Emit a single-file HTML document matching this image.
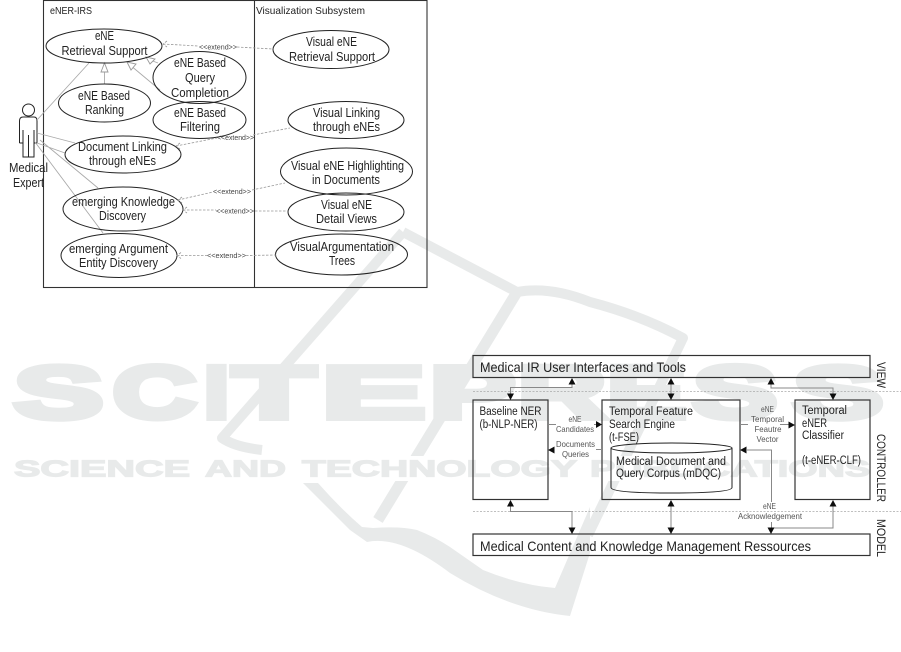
<!DOCTYPE html>
<html><head><meta charset="utf-8"><style>
html,body{margin:0;padding:0;background:#fff}
svg{display:block}
text{font-family:"Liberation Sans",sans-serif;fill:#222}
.b{font-size:12.5px}
.s{font-size:8.5px;fill:#555}
.x{font-size:7px;fill:#444}
.w{font-family:"Liberation Sans",sans-serif;font-weight:bold;fill:#e8eaea;stroke:#e8eaea;stroke-linejoin:miter}
.e{fill:none;stroke:#222;stroke-width:1}
.a{fill:none;stroke:#aaa;stroke-width:.9}
.d{fill:none;stroke:#999;stroke-width:.8;stroke-dasharray:2.5 1.5}
.l{fill:none;stroke:#888;stroke-width:1}
.r{fill:none;stroke:#333;stroke-width:1.1}
.h{fill:#111;stroke:none}
</style></head><body>
<svg xmlns="http://www.w3.org/2000/svg" width="901" height="652" viewBox="0 0 901 652">
<defs><filter id="f" x="0" y="0" width="100%" height="100%"><feGaussianBlur stdDeviation="0.35"/></filter></defs>

<!-- watermark -->
<g fill="none" stroke="#e8eaea" stroke-linejoin="round">
<path d="M403,232 L222,438 Q235,447 262,450" stroke-width="10"/>
<path d="M588,535 L683,338 Q640,315 590,302 Q550,286 517,292 Q460,262 403,232" stroke-width="10"/>
<path d="M517,292 L378,520" stroke-width="11"/>
</g>
<path fill="#e8eaea" d="M303,483L318,483Q340,508 362,527L373,528Q400,526 417,530Q435,537 450,547L483,570Q520,585 555,588L590,507L590,553L570,616Q510,610 450,573Q400,535 367,542L350,530Z"/>
<rect x="0" y="456" width="901" height="25" fill="#fff"/>
<g font-size="74" stroke-width="6">
<text class="w" x="14" y="418" textLength="89" lengthAdjust="spacingAndGlyphs">S</text>
<text class="w" x="113" y="418" textLength="83" lengthAdjust="spacingAndGlyphs">C</text>
<text class="w" x="204" y="418" textLength="25" lengthAdjust="spacingAndGlyphs">I</text>
<text class="w" x="233" y="418" textLength="82" lengthAdjust="spacingAndGlyphs">T</text>
<text class="w" x="322" y="418" textLength="103" lengthAdjust="spacingAndGlyphs">E</text>
<text class="w" x="430" y="418" textLength="85" lengthAdjust="spacingAndGlyphs">P</text>
<text class="w" x="518" y="418" textLength="88" lengthAdjust="spacingAndGlyphs">R</text>
<text class="w" x="607" y="418" textLength="79" lengthAdjust="spacingAndGlyphs">E</text>
<text class="w" x="693" y="418" textLength="84" lengthAdjust="spacingAndGlyphs">S</text>
<text class="w" x="793" y="418" textLength="90" lengthAdjust="spacingAndGlyphs">S</text>
</g>
<g font-size="23" stroke-width="1.2">
<text class="w" x="14" y="476.5" textLength="176" lengthAdjust="spacingAndGlyphs">SCIENCE</text>
<text class="w" x="205" y="476.5" textLength="81" lengthAdjust="spacingAndGlyphs">AND</text>
<text class="w" x="302" y="476.5" textLength="275" lengthAdjust="spacingAndGlyphs">TECHNOLOGY</text>
<text class="w" x="590" y="476.5" textLength="280" lengthAdjust="spacingAndGlyphs">PUBLICATIONS</text>
</g>

<g filter="url(#f)">
<!-- system boundary -->
<rect x="43.5" y="0.5" width="383.5" height="287" class="r"/>
<path d="M254.5,0V287" class="r"/>

<!-- actor -->
<g fill="none" stroke="#222" stroke-width="1">
<circle cx="28.5" cy="110" r="6"/>
<path d="M19.5,143V121Q19.5,117 23,117H34Q37,117 37,121V143H34V130M23,130V143H19.5M23,143V157H34V143M28.5,135V157"/>
</g>

<!-- associations -->
<path class="a" d="M37,120L89,63M37,133L75,143M37,143L65,153M40,140L98,188M35,142L103,233"/>
<path class="a" d="M104.5,84V72M160,90L130,65M158,63L150,60"/>
<g fill="#fff" stroke="#999" stroke-width=".9">
<path d="M104.5,63L101,72H108Z"/>
<path d="M127,62L131,70L136,64Z"/>
<path d="M146,57L150,64L155,59Z"/>
</g>

<!-- ellipses -->
<g class="e">
<ellipse cx="104" cy="46" rx="58" ry="17"/>
<ellipse cx="199.5" cy="77.5" rx="46.5" ry="26"/>
<ellipse cx="104.5" cy="103" rx="46" ry="19"/>
<ellipse cx="199.5" cy="120" rx="46.5" ry="18.5"/>
<ellipse cx="123" cy="154.5" rx="58" ry="18.5"/>
<ellipse cx="123" cy="209" rx="60" ry="22"/>
<ellipse cx="119" cy="255.5" rx="58" ry="22"/>
<ellipse cx="331" cy="49.5" rx="58" ry="19"/>
<ellipse cx="346" cy="120" rx="58" ry="18.5"/>
<ellipse cx="346.5" cy="171.5" rx="66" ry="23.5"/>
<ellipse cx="346" cy="212" rx="58" ry="19"/>
<ellipse cx="341.5" cy="254.5" rx="66" ry="20.5"/>
</g>

<!-- extend -->
<path class="d" d="M163,44L198,46M237,47L273,49M167,41L163,44L167,47"/>
<path class="d" d="M176,146L217,138M253,135L290,128M180,143L176,146L180,149"/>
<path class="d" d="M178,200L213,192M252,190L285,183M182,197L178,200L182,203"/>
<path class="d" d="M183,210L216,210M255,211L288,211M187,207L183,210L187,213"/>
<path class="d" d="M177,255.5L207,255.5M246,255.5L276,255M181,252.5L177,255.5L181,258.5"/>
<text class="x" x="199" y="49.5" textLength="38" lengthAdjust="spacingAndGlyphs">&lt;&lt;extend&gt;&gt;</text>
<text class="x" x="217" y="140" textLength="37" lengthAdjust="spacingAndGlyphs">&lt;&lt;extend&gt;&gt;</text>
<text class="x" x="213" y="194" textLength="38" lengthAdjust="spacingAndGlyphs">&lt;&lt;extend&gt;&gt;</text>
<text class="x" x="216" y="213.5" textLength="38" lengthAdjust="spacingAndGlyphs">&lt;&lt;extend&gt;&gt;</text>
<text class="x" x="207" y="258" textLength="39" lengthAdjust="spacingAndGlyphs">&lt;&lt;extend&gt;&gt;</text>

<!-- titles -->
<text x="50" y="14" font-size="10.5" textLength="42" lengthAdjust="spacingAndGlyphs">eNER-IRS</text>
<text x="256" y="14" font-size="10.5" textLength="109" lengthAdjust="spacingAndGlyphs">Visualization Subsystem</text>

<!-- use case labels -->
<text class="b" x="95" y="40" textLength="19" lengthAdjust="spacingAndGlyphs">eNE</text>
<text class="b" x="61.5" y="55" textLength="86" lengthAdjust="spacingAndGlyphs">Retrieval Support</text>
<text class="b" x="174" y="67" textLength="52" lengthAdjust="spacingAndGlyphs">eNE Based</text>
<text class="b" x="185" y="82" textLength="30" lengthAdjust="spacingAndGlyphs">Query</text>
<text class="b" x="171" y="97" textLength="58" lengthAdjust="spacingAndGlyphs">Completion</text>
<text class="b" x="78" y="100" textLength="52" lengthAdjust="spacingAndGlyphs">eNE Based</text>
<text class="b" x="85" y="114" textLength="39" lengthAdjust="spacingAndGlyphs">Ranking</text>
<text class="b" x="174" y="117" textLength="52" lengthAdjust="spacingAndGlyphs">eNE Based</text>
<text class="b" x="180" y="131" textLength="40" lengthAdjust="spacingAndGlyphs">Filtering</text>
<text class="b" x="78" y="151" textLength="89" lengthAdjust="spacingAndGlyphs">Document Linking</text>
<text class="b" x="89" y="165" textLength="67" lengthAdjust="spacingAndGlyphs">through eNEs</text>
<text class="b" x="72" y="206" textLength="103" lengthAdjust="spacingAndGlyphs">emerging Knowledge</text>
<text class="b" x="99" y="220" textLength="47" lengthAdjust="spacingAndGlyphs">Discovery</text>
<text class="b" x="69" y="253" textLength="99" lengthAdjust="spacingAndGlyphs">emerging Argument</text>
<text class="b" x="79" y="267" textLength="79" lengthAdjust="spacingAndGlyphs">Entity Discovery</text>
<text class="b" x="306" y="46" textLength="51" lengthAdjust="spacingAndGlyphs">Visual eNE</text>
<text class="b" x="289" y="61" textLength="86" lengthAdjust="spacingAndGlyphs">Retrieval Support</text>
<text class="b" x="313" y="117" textLength="67" lengthAdjust="spacingAndGlyphs">Visual Linking</text>
<text class="b" x="313" y="131" textLength="67" lengthAdjust="spacingAndGlyphs">through eNEs</text>
<text class="b" x="291" y="170" textLength="113" lengthAdjust="spacingAndGlyphs">Visual eNE Highlighting</text>
<text class="b" x="312" y="184" textLength="68" lengthAdjust="spacingAndGlyphs">in Documents</text>
<text class="b" x="321" y="209" textLength="51" lengthAdjust="spacingAndGlyphs">Visual eNE</text>
<text class="b" x="316" y="223" textLength="61" lengthAdjust="spacingAndGlyphs">Detail Views</text>
<text class="b" x="290" y="251" textLength="104" lengthAdjust="spacingAndGlyphs">VisualArgumentation</text>
<text class="b" x="329" y="265" textLength="26" lengthAdjust="spacingAndGlyphs">Trees</text>
<text class="b" x="9" y="172" textLength="39" lengthAdjust="spacingAndGlyphs">Medical</text>
<text class="b" x="13" y="187" textLength="31" lengthAdjust="spacingAndGlyphs">Expert</text>

<!-- architecture: dotted separators -->
<path d="M473,391.5H901M473,511.5H901" fill="none" stroke="#aaa" stroke-width=".8" stroke-dasharray="2 1.5"/>

<!-- boxes -->
<g fill="none" stroke="#333" stroke-width="1.2">
<rect x="473" y="355.5" width="397" height="22"/>
<rect x="473" y="400" width="75" height="99.5"/>
<rect x="602" y="400" width="138" height="99.5"/>
<rect x="795" y="400" width="75" height="99.5"/>
<rect x="473" y="534" width="397" height="21.5"/>
</g>
<g fill="none" stroke="#222" stroke-width="1">
<ellipse cx="671.5" cy="448" rx="60.5" ry="5"/>
<path d="M611,448V487.5Q611,493 671.5,493Q732,493 732,487.5V448"/>
</g>

<!-- connectors -->
<path class="l" d="M572,384V387.5H510.5V394"/>
<path class="l" d="M671,384V394"/>
<path class="l" d="M771,384V388H833V394"/>
<path class="l" d="M510.5,506V511.5H572V528"/>
<path class="l" d="M671,506V528"/>
<path class="l" d="M833,506V528H771V529"/>
<path class="l" d="M747,450H771.5V502M771.5,522V528"/>
<path class="l" d="M548,424.5H556M594,424.5H596M596,449.5H602M740,424.5H748M780,424.5H789"/>
<g class="h">
<path d="M572,378L568.5,384.5H575.5Z"/>
<path d="M510.5,400L507,393.5H514Z"/>
<path d="M671,378L667.5,384.5H674.5Z"/>
<path d="M671,400L667.5,393.5H674.5Z"/>
<path d="M771,378L767.5,384.5H774.5Z"/>
<path d="M833,400L829.5,393.5H836.5Z"/>
<path d="M510.5,500L507,506.5H514Z"/>
<path d="M572,534L568.5,527.5H575.5Z"/>
<path d="M671,500L667.5,506.5H674.5Z"/>
<path d="M671,534L667.5,527.5H674.5Z"/>
<path d="M833,500L829.5,506.5H836.5Z"/>
<path d="M771,534L767.5,527.5H774.5Z"/>
<path d="M602,424.5L596,421V428Z"/>
<path d="M548,450L554.5,446.5V453.5Z"/>
<path d="M795,425L788.5,421.5V428.5Z"/>
<path d="M740,450L746.5,446.5V453.5Z"/>
</g>

<!-- architecture labels -->
<text x="480" y="372" font-size="14" textLength="206" lengthAdjust="spacingAndGlyphs">Medical IR User Interfaces and Tools</text>
<text x="480" y="551" font-size="14" textLength="331" lengthAdjust="spacingAndGlyphs">Medical Content and Knowledge Management Ressources</text>
<text x="479.5" y="415" font-size="11.5" textLength="62" lengthAdjust="spacingAndGlyphs">Baseline NER</text>
<text x="479.5" y="428" font-size="11.5" textLength="58" lengthAdjust="spacingAndGlyphs">(b-NLP-NER)</text>
<text x="609" y="415" font-size="11.5" textLength="84" lengthAdjust="spacingAndGlyphs">Temporal Feature</text>
<text x="609" y="428" font-size="11.5" textLength="66" lengthAdjust="spacingAndGlyphs">Search Engine</text>
<text x="609" y="441" font-size="11.5" textLength="30" lengthAdjust="spacingAndGlyphs">(t-FSE)</text>
<text x="616" y="465" font-size="11.5" textLength="110" lengthAdjust="spacingAndGlyphs">Medical Document and</text>
<text x="616" y="477" font-size="11.5" textLength="105" lengthAdjust="spacingAndGlyphs">Query Corpus (mDQC)</text>
<text x="802" y="414" font-size="11.5" textLength="45" lengthAdjust="spacingAndGlyphs">Temporal</text>
<text x="802" y="427" font-size="11.5" textLength="25" lengthAdjust="spacingAndGlyphs">eNER</text>
<text x="802" y="439" font-size="11.5" textLength="42" lengthAdjust="spacingAndGlyphs">Classifier</text>
<text x="802" y="464" font-size="11.5" textLength="59" lengthAdjust="spacingAndGlyphs">(t-eNER-CLF)</text>
<text class="s" x="568.5" y="422" textLength="13" lengthAdjust="spacingAndGlyphs">eNE</text>
<text class="s" x="556" y="432" textLength="38" lengthAdjust="spacingAndGlyphs">Candidates</text>
<text class="s" x="556" y="447" textLength="39" lengthAdjust="spacingAndGlyphs">Documents</text>
<text class="s" x="562" y="457" textLength="27" lengthAdjust="spacingAndGlyphs">Queries</text>
<text class="s" x="761" y="412" textLength="13" lengthAdjust="spacingAndGlyphs">eNE</text>
<text class="s" x="751" y="422" textLength="33" lengthAdjust="spacingAndGlyphs">Temporal</text>
<text class="s" x="754.5" y="432" textLength="27" lengthAdjust="spacingAndGlyphs">Feautre</text>
<text class="s" x="756.5" y="442" textLength="22" lengthAdjust="spacingAndGlyphs">Vector</text>
<text class="s" x="763" y="509" textLength="13" lengthAdjust="spacingAndGlyphs">eNE</text>
<text class="s" x="738" y="519" textLength="64" lengthAdjust="spacingAndGlyphs">Acknowledgement</text>

<text transform="translate(877,362) rotate(90)" font-size="11.5" textLength="26" lengthAdjust="spacingAndGlyphs">VIEW</text>
<text transform="translate(877,434) rotate(90)" font-size="11.5" textLength="68" lengthAdjust="spacingAndGlyphs">CONTROLLER</text>
<text transform="translate(877,519) rotate(90)" font-size="11.5" textLength="38" lengthAdjust="spacingAndGlyphs">MODEL</text>
</g>
</svg>
</body></html>
